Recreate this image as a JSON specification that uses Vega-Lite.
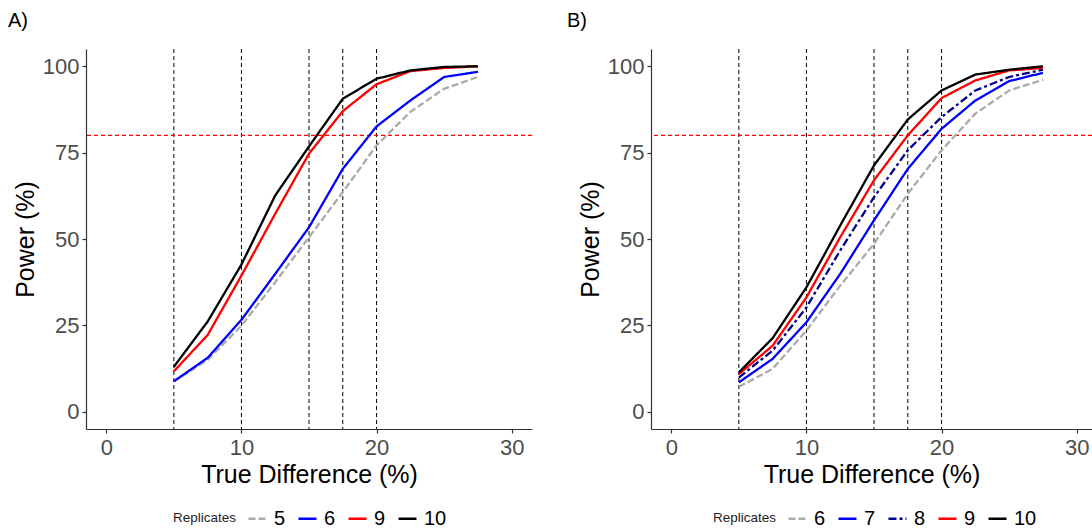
{
  "$schema": "https://vega.github.io/schema/vega-lite/v6.json",
  "background": "white",
  "padding": {"left": 8, "top": 10, "right": 0, "bottom": 0},
  "datasets": {
    "panelA": [
      {"diff": 5, "power": 8.8, "reps": 5}, {"diff": 7.5, "power": 15.0, "reps": 5}, {"diff": 10, "power": 24.9, "reps": 5}, {"diff": 12.5, "power": 37.5, "reps": 5}, {"diff": 15, "power": 50.5, "reps": 5}, {"diff": 17.5, "power": 63.6, "reps": 5}, {"diff": 20, "power": 77.1, "reps": 5}, {"diff": 22.5, "power": 86.8, "reps": 5}, {"diff": 25, "power": 93.5, "reps": 5}, {"diff": 27.5, "power": 96.9, "reps": 5},
      {"diff": 5, "power": 8.8, "reps": 6}, {"diff": 7.5, "power": 15.6, "reps": 6}, {"diff": 10, "power": 26.6, "reps": 6}, {"diff": 12.5, "power": 39.9, "reps": 6}, {"diff": 15, "power": 53.4, "reps": 6}, {"diff": 17.5, "power": 70.3, "reps": 6}, {"diff": 20, "power": 82.6, "reps": 6}, {"diff": 22.5, "power": 90.1, "reps": 6}, {"diff": 25, "power": 96.9, "reps": 6}, {"diff": 27.5, "power": 98.4, "reps": 6},
      {"diff": 5, "power": 11.7, "reps": 9}, {"diff": 7.5, "power": 22.2, "reps": 9}, {"diff": 10, "power": 39.4, "reps": 9}, {"diff": 12.5, "power": 57.3, "reps": 9}, {"diff": 15, "power": 74.7, "reps": 9}, {"diff": 17.5, "power": 87.0, "reps": 9}, {"diff": 20, "power": 94.8, "reps": 9}, {"diff": 22.5, "power": 98.6, "reps": 9}, {"diff": 25, "power": 99.5, "reps": 9}, {"diff": 27.5, "power": 100, "reps": 9},
      {"diff": 5, "power": 13.0, "reps": 10}, {"diff": 7.5, "power": 26.1, "reps": 10}, {"diff": 10, "power": 42.6, "reps": 10}, {"diff": 12.5, "power": 62.6, "reps": 10}, {"diff": 15, "power": 76.8, "reps": 10}, {"diff": 17.5, "power": 90.6, "reps": 10}, {"diff": 20, "power": 96.4, "reps": 10}, {"diff": 22.5, "power": 98.8, "reps": 10}, {"diff": 25, "power": 99.8, "reps": 10}, {"diff": 27.5, "power": 100, "reps": 10}
    ],
    "panelB": [
      {"diff": 5, "power": 7.2, "reps": 6}, {"diff": 7.5, "power": 12.4, "reps": 6}, {"diff": 10, "power": 23.5, "reps": 6}, {"diff": 12.5, "power": 36.5, "reps": 6}, {"diff": 15, "power": 48.6, "reps": 6}, {"diff": 17.5, "power": 63.1, "reps": 6}, {"diff": 20, "power": 75.7, "reps": 6}, {"diff": 22.5, "power": 86.3, "reps": 6}, {"diff": 25, "power": 93.0, "reps": 6}, {"diff": 27.5, "power": 96.1, "reps": 6},
      {"diff": 5, "power": 8.5, "reps": 7}, {"diff": 7.5, "power": 15.3, "reps": 7}, {"diff": 10, "power": 25.9, "reps": 7}, {"diff": 12.5, "power": 39.9, "reps": 7}, {"diff": 15, "power": 55.4, "reps": 7}, {"diff": 17.5, "power": 70.3, "reps": 7}, {"diff": 20, "power": 81.9, "reps": 7}, {"diff": 22.5, "power": 90.1, "reps": 7}, {"diff": 25, "power": 95.7, "reps": 7}, {"diff": 27.5, "power": 98.1, "reps": 7},
      {"diff": 5, "power": 9.9, "reps": 8}, {"diff": 7.5, "power": 17.7, "reps": 8}, {"diff": 10, "power": 30.2, "reps": 8}, {"diff": 12.5, "power": 46.7, "reps": 8}, {"diff": 15, "power": 62.1, "reps": 8}, {"diff": 17.5, "power": 75.7, "reps": 8}, {"diff": 20, "power": 85.3, "reps": 8}, {"diff": 22.5, "power": 93.0, "reps": 8}, {"diff": 25, "power": 96.9, "reps": 8}, {"diff": 27.5, "power": 99.0, "reps": 8},
      {"diff": 5, "power": 10.9, "reps": 9}, {"diff": 7.5, "power": 19.1, "reps": 9}, {"diff": 10, "power": 33.1, "reps": 9}, {"diff": 12.5, "power": 50.5, "reps": 9}, {"diff": 15, "power": 67.0, "reps": 9}, {"diff": 17.5, "power": 80.0, "reps": 9}, {"diff": 20, "power": 90.8, "reps": 9}, {"diff": 22.5, "power": 95.9, "reps": 9}, {"diff": 25, "power": 98.8, "reps": 9}, {"diff": 27.5, "power": 99.5, "reps": 9},
      {"diff": 5, "power": 11.4, "reps": 10}, {"diff": 7.5, "power": 21.3, "reps": 10}, {"diff": 10, "power": 36.0, "reps": 10}, {"diff": 12.5, "power": 53.9, "reps": 10}, {"diff": 15, "power": 71.3, "reps": 10}, {"diff": 17.5, "power": 84.6, "reps": 10}, {"diff": 20, "power": 93.0, "reps": 10}, {"diff": 22.5, "power": 97.6, "reps": 10}, {"diff": 25, "power": 99.0, "reps": 10}, {"diff": 27.5, "power": 100, "reps": 10}
    ],
    "cutoffs": [{"diff": 5}, {"diff": 10}, {"diff": 15}, {"diff": 17.5}, {"diff": 20}],
    "target": [{"power": 80}]
  },
  "config": {
    "font": "Liberation Sans",
    "view": {"stroke": null},
    "axis": {
      "grid": false,
      "domainColor": "#333333",
      "domainWidth": 1.2,
      "tickColor": "#333333",
      "tickWidth": 1.2,
      "tickSize": 4,
      "labelFont": "Liberation Sans",
      "labelFontSize": 22,
      "labelColor": "#4d4d4d",
      "titleFont": "Liberation Sans",
      "titleFontSize": 25,
      "titleFontWeight": "normal",
      "titleColor": "#000000",
      "titlePadding": 4
    },
    "axisX": {"labelPadding": 4},
    "axisY": {"labelPadding": 3},
    "legend": {
      "orient": "none",
      "direction": "horizontal",
      "titleOrient": "left",
      "titleFont": "Liberation Sans",
      "titleFontSize": 13.5,
      "titleFontWeight": "normal",
      "titleColor": "#222222",
      "titlePadding": 10,
      "labelFont": "Liberation Sans",
      "labelFontSize": 20,
      "labelColor": "#000000",
      "labelOffset": 6,
      "columnPadding": 7,
      "symbolType": "stroke",
      "symbolSize": 324,
      "symbolStrokeWidth": 2.5
    },
    "concat": {"spacing": 34}
  },
  "hconcat": [
    {
      "width": 446,
      "height": 380,
      "title": {"text": "A)", "anchor": "start", "frame": "group", "fontSize": 20, "fontWeight": "normal", "color": "#000000", "offset": 18, "dx": -78},
      "layer": [
        {
          "data": {"name": "cutoffs"},
          "mark": {"type": "rule", "color": "#000000", "strokeWidth": 1, "strokeDash": [4, 3]},
          "encoding": {
            "x": {"field": "diff", "type": "quantitative", "title": "True Difference (%)", "scale": {"domain": [-1.5, 31.5], "nice": false, "zero": false}, "axis": {"values": [0, 10, 20, 30]}}
          }
        },
        {
          "data": {"name": "target"},
          "mark": {"type": "rule", "color": "#ff0000", "strokeWidth": 1.1, "strokeDash": [4, 3]},
          "encoding": {
            "y": {"field": "power", "type": "quantitative", "title": "Power (%)", "scale": {"domain": [-5, 105], "nice": false, "zero": false}, "axis": {"values": [0, 25, 50, 75, 100]}}
          }
        },
        {
          "data": {"name": "panelA"},
          "mark": {"type": "line", "strokeWidth": 2.3},
          "encoding": {
            "x": {"field": "diff", "type": "quantitative", "title": "True Difference (%)"},
            "y": {"field": "power", "type": "quantitative", "title": "Power (%)"},
            "color": {"field": "reps", "type": "ordinal", "title": "Replicates", "scale": {"domain": [5, 6, 9, 10], "range": ["#aaaaaa", "#0000ff", "#ff0000", "#000000"]}, "legend": {"legendX": 87, "legendY": 459}},
            "strokeDash": {"field": "reps", "type": "ordinal", "title": "Replicates", "scale": {"domain": [5, 6, 9, 10], "range": [[7, 3], [1, 0], [1, 0], [1, 0]]}, "legend": {"legendX": 87, "legendY": 459}}
          }
        }
      ]
    },
    {
      "width": 441,
      "height": 380,
      "title": {"text": "B)", "anchor": "start", "frame": "group", "fontSize": 20, "fontWeight": "normal", "color": "#000000", "offset": 18, "dx": -84},
      "layer": [
        {
          "data": {"name": "cutoffs"},
          "mark": {"type": "rule", "color": "#000000", "strokeWidth": 1, "strokeDash": [4, 3]},
          "encoding": {
            "x": {"field": "diff", "type": "quantitative", "title": "True Difference (%)", "scale": {"domain": [-1.5, 31.13], "nice": false, "zero": false}, "axis": {"values": [0, 10, 20, 30]}}
          }
        },
        {
          "data": {"name": "target"},
          "mark": {"type": "rule", "color": "#ff0000", "strokeWidth": 1.1, "strokeDash": [4, 3]},
          "encoding": {
            "y": {"field": "power", "type": "quantitative", "title": "Power (%)", "scale": {"domain": [-5, 105], "nice": false, "zero": false}, "axis": {"values": [0, 25, 50, 75, 100]}}
          }
        },
        {
          "data": {"name": "panelB"},
          "mark": {"type": "line", "strokeWidth": 2.3},
          "encoding": {
            "x": {"field": "diff", "type": "quantitative", "title": "True Difference (%)"},
            "y": {"field": "power", "type": "quantitative", "title": "Power (%)"},
            "color": {"field": "reps", "type": "ordinal", "title": "Replicates", "scale": {"domain": [6, 7, 8, 9, 10], "range": ["#aaaaaa", "#0000ff", "#00008b", "#ff0000", "#000000"]}, "legend": {"legendX": 62, "legendY": 459}},
            "strokeDash": {"field": "reps", "type": "ordinal", "title": "Replicates", "scale": {"domain": [6, 7, 8, 9, 10], "range": [[7, 3], [1, 0], [8, 3, 3, 3], [1, 0], [1, 0]]}, "legend": {"legendX": 62, "legendY": 459}}
          }
        }
      ]
    }
  ],
  "resolve": {"scale": {"color": "independent", "strokeDash": "independent", "x": "independent", "y": "independent"}}
}
